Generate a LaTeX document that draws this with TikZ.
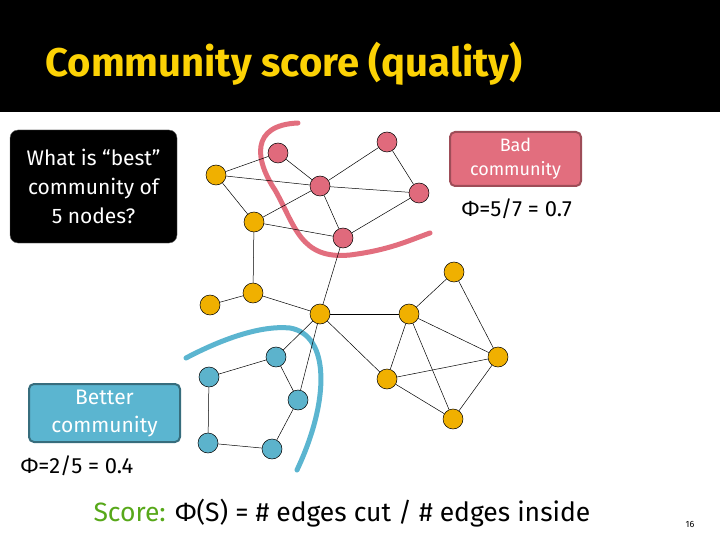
\documentclass[tikz,border=0pt]{standalone}
\usepackage{fontspec}
\setmainfont{Fira Sans}
\begin{document}
\begin{tikzpicture}[x=1pt,y=-1pt,
 nd/.style={circle,draw=black,line width=0.5pt,minimum size=20pt,inner sep=0pt},
 yn/.style={nd},
 rn/.style={nd},
 bn/.style={nd},
 ed/.style={line width=0.5pt}]
\useasboundingbox (0,0) rectangle (720,540);
\fill[black] (0,0) rectangle (720,112);
\node[anchor=west,text=yellow!70!orange,font=\bfseries\fontsize{40}{44}\selectfont] (title) at (42,64) {Community score (quality)};
\node[draw=black!60,fill=black,rounded corners=8pt,minimum width=167pt,minimum height=113pt,text=white,align=center,font=\fontsize{21}{29}\selectfont] (q) at (93.5,186.5) {What is “best”\\community of\\5 nodes?};
\definecolor{redc}{HTML}{E26E7E}\definecolor{bluec}{HTML}{5BB5D0}
\definecolor{yel}{HTML}{F0B000}\definecolor{red2}{HTML}{E06A7C}\definecolor{blu2}{HTML}{5CB3CC}
\node[draw=redc!70!black,line width=2pt,fill=redc,rounded corners=5pt,minimum width=131pt,minimum height=54pt,text=white,align=center,font=\fontsize{18}{24}\selectfont] (bad) at (515.5,159) {Bad\\community};
\node[anchor=west,font=\fontsize{22}{24}\selectfont] (bphi) at (458,209) {Φ=5/7 = 0.7};
\node[draw=bluec!60!black,line width=2pt,fill=bluec,rounded corners=5pt,minimum width=151pt,minimum height=58pt,text=white,align=center,font=\fontsize{21}{28}\selectfont] (good) at (104.5,413) {Better\\community};
\node[anchor=west,font=\fontsize{22}{24}\selectfont] (gphi) at (17,466) {Φ=2/5 = 0.4};
\node[anchor=west,font=\fontsize{26.5}{28}\selectfont] (score) at (90,513) {\textcolor{green!40!olive!80!gray}{Score:} Φ(S) = \# edges cut / \# edges inside};
\node[font=\fontsize{9}{10}\selectfont] (pg) at (690,524) {16};
\draw[redc,line width=5pt,line cap=round] (298,123) .. controls (250,125) and (255,160) .. (275,190) .. controls (295,225) and (300,260) .. (350,255) .. controls (390,250) and (410,240) .. (430,233);
\draw[bluec,line width=5pt,line cap=round] (186,358) .. controls (220,340) and (260,325) .. (290,328) .. controls (330,335) and (330,400) .. (297,470);
\node[yn,fill=yel] (Y1) at (216,175) {};
\node[rn,fill=red2] (R1) at (278,153) {};
\node[rn,fill=red2] (R2) at (320,186) {};
\node[rn,fill=red2] (R3) at (387,142) {};
\node[rn,fill=red2] (R4) at (419,193) {};
\node[rn,fill=red2] (R5) at (343,238) {};
\node[yn,fill=yel] (Y2) at (254,222) {};
\node[yn,fill=yel] (Y3) at (253,293) {};
\node[yn,fill=yel] (Y4) at (210,305) {};
\node[yn,fill=yel] (Y5) at (320,314) {};
\node[yn,fill=yel] (Y6) at (409,314) {};
\node[yn,fill=yel] (Y7) at (454,272) {};
\node[yn,fill=yel] (Y8) at (498,357) {};
\node[yn,fill=yel] (Y9) at (387,379) {};
\node[yn,fill=yel] (Y10) at (453,419) {};
\node[bn,fill=blu2] (B1) at (276,357) {};
\node[bn,fill=blu2] (B2) at (209,377) {};
\node[bn,fill=blu2] (B3) at (298,400) {};
\node[bn,fill=blu2] (B4) at (208,443) {};
\node[bn,fill=blu2] (B5) at (272,449) {};
\foreach \a/\b in {Y1/R1,Y1/R2,Y1/Y2,R1/R2,Y2/R2,Y2/R5,R2/R3,R2/R4,R2/R5,R3/R4,R4/R5,Y2/Y3,Y3/Y4,Y3/Y5,R5/Y5,Y5/Y6,Y5/B1,Y5/B3,Y5/Y9,Y6/Y7,Y6/Y9,Y6/Y8,Y6/Y10,Y7/Y8,Y9/Y8,Y9/Y10,Y8/Y10,B1/B2,B1/B3,B2/B4,B4/B5,B5/B3}
 \draw[ed] (\a) -- (\b);
\end{tikzpicture}
\end{document}
